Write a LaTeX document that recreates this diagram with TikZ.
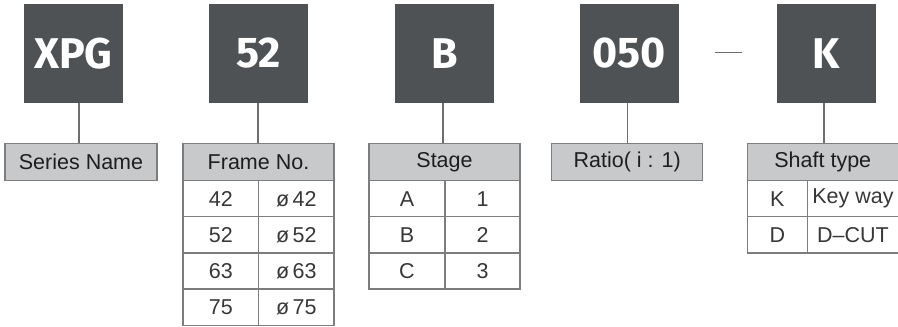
\documentclass[tikz,border=0pt]{standalone}
\usepackage{fontspec}
\setmainfont{Liberation Sans}
\newfontfamily\codefont{Fira Sans}
\usetikzlibrary{calc}
\definecolor{boxgray}{RGB}{79,82,85}
\definecolor{headfill}{RGB}{199,201,203}
\definecolor{rulegray}{RGB}{125,125,125}
\definecolor{linkgray}{RGB}{110,110,110}
\definecolor{txt}{RGB}{30,30,30}
\definecolor{celltxt}{RGB}{55,55,55}
\tikzset{
  codebox/.style={fill=boxgray, minimum width=99pt, minimum height=99pt, inner sep=0pt,
    text=white, font=\codefont\bfseries\fontsize{43}{43}\selectfont},
  headbox/.style={draw=rulegray, line width=1.2pt, fill=headfill, minimum height=36.5pt,
    inner sep=0pt, text=txt, font=\fontsize{21.5}{21.5}\selectfont},
  cellbox/.style={draw=rulegray, line width=1.2pt, minimum height=36.1pt, inner sep=0pt,
    text=celltxt, font=\fontsize{21.5}{21.5}\selectfont},
  link/.style={draw=linkgray, line width=1.4pt},
  dashrule/.style={draw=linkgray, line width=1.3pt}
}
\begin{document}
\begin{tikzpicture}[x=1pt,y=-1pt]
\useasboundingbox (0,0) rectangle (898,327);
\clip (0,0) rectangle (898,327);

% code boxes
\node[codebox] (cxpg) at (73.4,53.4) {XPG};
\node[codebox] (c52)  at (258.5,53.4) {52};
\node[codebox] (cB)   at (444.3,53.4) {B};
\node[codebox] (c050) at (629.3,53.4) {050};
\node[codebox] (cK)   at (826.3,53.4) {K};

% dash between 050 and K
\draw[dashrule] ($(c050.east)+(36.3,-1.2)$) -- ($(cK.west)+(-34.3,-1.2)$);

% Series name
\node[headbox, minimum width=152pt] (series) at (81,162) {Series Name};

% Frame No. table
\node[headbox, minimum width=151pt] (frame) at (258.5,162) {Frame No.};
\foreach \r [count=\i] in {42,52,63,75}{
  \node[cellbox, minimum width=75.7pt] (fa\i) at (220.85,{162.7+36.1*\i}) {\r};
  \node[cellbox, minimum width=75.3pt] (fb\i) at (296.35,{162.7+36.1*\i}) {ø\,\r};
}

% Stage table
\node[headbox, minimum width=151pt] (stage) at (444.5,162) {Stage};
\foreach \a/\b [count=\i] in {A/1,B/2,C/3}{
  \node[cellbox, minimum width=76pt] (sa\i) at (407,{162.7+36.1*\i}) {\a};
  \node[cellbox, minimum width=75pt] (sb\i) at (482.5,{162.7+36.1*\i}) {\b};
}

% Ratio
\node[headbox, minimum width=151pt] (ratio) at (627.2,162) {Ratio( i : 1)};

% Shaft type table
\node[headbox, minimum width=151pt] (shaft) at (822.8,162) {Shaft type};
\foreach \a/\b [count=\i] in {K/Key way,D/D--CUT}{
  \node[cellbox, minimum width=60pt] (ka\i) at (777.3,{162.7+36.1*\i}) {\a};
  \node[cellbox, minimum width=91.2pt] (kb\i) at (852.9,{162.7+36.1*\i}) {\b};
}

% connectors
\coordinate (l1) at (79,0);
\coordinate (l2) at (258,0);
\coordinate (l3) at (443,0);
\coordinate (l4) at (627.7,0);
\coordinate (l5) at (824,0);
\draw[link] (cxpg.south -| l1) -- (series.north -| l1);
\draw[link] (c52.south -| l2) -- (frame.north -| l2);
\draw[link] (cB.south -| l3) -- (stage.north -| l3);
\draw[link] (c050.south -| l4) -- (ratio.north -| l4);
\draw[link] (cK.south -| l5) -- (shaft.north -| l5);
\end{tikzpicture}
\end{document}
